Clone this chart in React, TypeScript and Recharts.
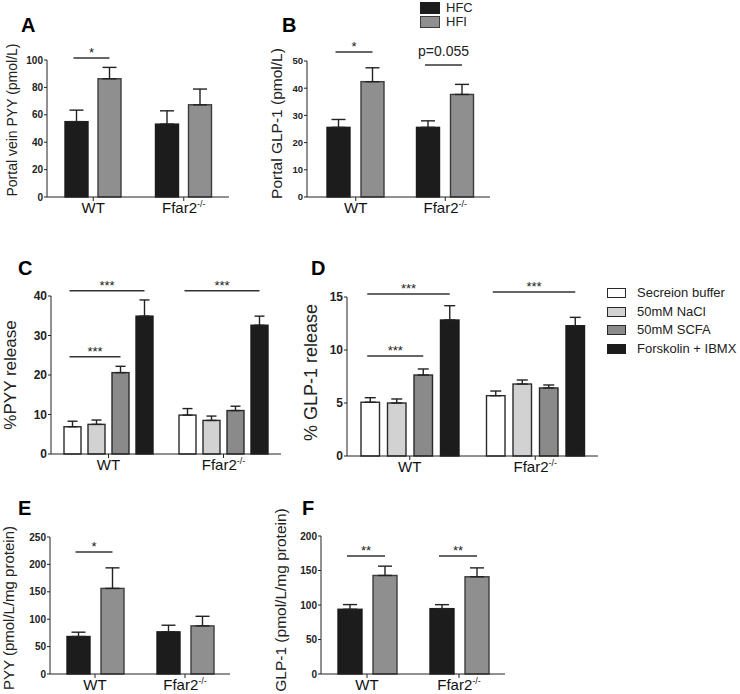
import React from 'react';
import { BarChart, Bar, XAxis, YAxis, ErrorBar, Legend } from 'recharts';

const FONT = '"Liberation Sans", Arial, sans-serif';
const INK = '#222';

const groups = ['WT', 'Ffar2'];

// A: portal vein PYY (pmol/L)
const portalPyyHFC = [55.0, 53.2];
const portalPyyHFCErr = [8.4, 9.7];
const portalPyyHFI = [86.3, 67.3];
const portalPyyHFIErr = [8.3, 11.5];

// B: portal GLP-1 (pmol/L)
const portalGlpHFC = [25.6, 25.6];
const portalGlpHFCErr = [2.9, 2.4];
const portalGlpHFI = [42.4, 37.7];
const portalGlpHFIErr = [5.1, 3.7];

// C: %PYY release
const pyyBuffer = [6.9, 9.85];
const pyyBufferErr = [1.4, 1.65];
const pyyNaCl = [7.5, 8.5];
const pyyNaClErr = [1.1, 1.1];
const pyySCFA = [20.6, 11.0];
const pyySCFAErr = [1.6, 1.1];
const pyyFsk = [34.9, 32.6];
const pyyFskErr = [4.1, 2.3];

// D: % GLP-1 release
const glpBuffer = [5.07, 5.69];
const glpBufferErr = [0.43, 0.44];
const glpNaCl = [5.0, 6.79];
const glpNaClErr = [0.38, 0.38];
const glpSCFA = [7.64, 6.42];
const glpSCFAErr = [0.57, 0.28];
const glpFsk = [12.83, 12.29];
const glpFskErr = [1.35, 0.79];

// E: PYY (pmol/L/mg protein)
const tissuePyyHFC = [68.4, 76.9];
const tissuePyyHFCErr = [7.9, 12.1];
const tissuePyyHFI = [156.2, 87.8];
const tissuePyyHFIErr = [37.5, 17.5];

// F: GLP-1 (pmol/L/mg protein)
const tissueGlpHFC = [93.8, 94.7];
const tissueGlpHFCErr = [6.8, 5.8];
const tissueGlpHFI = [142.8, 140.9];
const tissueGlpHFIErr = [13.5, 12.9];

const ticksA = [0, 20, 40, 60, 80, 100];
const ticksB = [0, 10, 20, 30, 40, 50];
const ticksC = [0, 10, 20, 30, 40];
const ticksD = [0, 5, 10, 15];
const ticksE = [0, 50, 100, 150, 200, 250];
const ticksF = [0, 50, 100, 150, 200];

type Series = { name: string; fill: string; stroke: string; values: number[]; errs: number[] };
type Sig = { group: number; from: number; to: number; at: number; text: string };
type PanelDef = {
  x0: number; y0: number; y1: number; band: number; padL: number; padR: number;
  mt: number; mr: number;
  barSize: number; gap: number; cap: number; tickFont: number;
  yMax: number; yTicks: number[];
  series: Series[]; sigs: Sig[];
  legend?: { x: number; y: number; box: [number, number]; row: number; font: number; space: number };
};

const BLACK = '#1c1c1c';
const HFI_GRAY = '#8f8f8f';
const dietSeries = (hfc: number[], hfcErr: number[], hfi: number[], hfiErr: number[]): Series[] => [
  { name: 'HFC', fill: BLACK, stroke: '#1c1c1c', values: hfc, errs: hfcErr },
  { name: 'HFI', fill: HFI_GRAY, stroke: '#3c3c3c', values: hfi, errs: hfiErr },
];
const stimSeries = (v: number[][], e: number[][]): Series[] => [
  { name: 'Secreion buffer', fill: '#ffffff', stroke: '#2a2a2a', values: v[0], errs: e[0] },
  { name: '50mM NaCl', fill: '#d2d2d2', stroke: '#2a2a2a', values: v[1], errs: e[1] },
  { name: '50mM SCFA', fill: '#8a8a8a', stroke: '#2a2a2a', values: v[2], errs: e[2] },
  { name: 'Forskolin + IBMX', fill: BLACK, stroke: '#1c1c1c', values: v[3], errs: e[3] },
];

const YW = 36;
const XH = 26;

const panelA: PanelDef = {
  x0: 47, y0: 60, y1: 197, band: 90.5, padL: 1, padR: 0, mt: 24, mr: 10,
  barSize: 23, gap: 10, cap: 7, tickFont: 10, yMax: 100, yTicks: ticksA,
  series: dietSeries(portalPyyHFC, portalPyyHFCErr, portalPyyHFI, portalPyyHFIErr),
  sigs: [{ group: 0, from: 0, to: 1, at: 101.5, text: '*' }],
};
const panelB: PanelDef = {
  x0: 307, y0: 61, y1: 197, band: 89.5, padL: 4, padR: 0, mt: 61, mr: 10,
  barSize: 23, gap: 11, cap: 7, tickFont: 9.5, yMax: 50, yTicks: ticksB,
  series: dietSeries(portalGlpHFC, portalGlpHFCErr, portalGlpHFI, portalGlpHFIErr),
  sigs: [
    { group: 0, from: 0, to: 1, at: 53.3, text: '*' },
    { group: 1, from: 0, to: 1, at: 48.5, text: 'p=0.055' },
  ],
  legend: { x: 420, y: 1, box: [20, 12], row: 14, font: 13, space: 6 },
};
const panelC: PanelDef = {
  x0: 51, y0: 296, y1: 454, band: 115, padL: 0, padR: 0, mt: 24, mr: 10,
  barSize: 17, gap: 7, cap: 5, tickFont: 12, yMax: 40, yTicks: ticksC,
  series: stimSeries([pyyBuffer, pyyNaCl, pyySCFA, pyyFsk], [pyyBufferErr, pyyNaClErr, pyySCFAErr, pyyFskErr]),
  sigs: [
    { group: 0, from: 0, to: 3, at: 41.3, text: '***' },
    { group: 0, from: 0, to: 2, at: 24.6, text: '***' },
    { group: 1, from: 0, to: 3, at: 41.3, text: '***' },
  ],
};
const panelD: PanelDef = {
  x0: 347, y0: 297, y1: 456, band: 125.5, padL: 0, padR: 0, mt: 24, mr: 142,
  barSize: 18.5, gap: 8, cap: 5.5, tickFont: 12, yMax: 15, yTicks: ticksD,
  series: stimSeries([glpBuffer, glpNaCl, glpSCFA, glpFsk], [glpBufferErr, glpNaClErr, glpSCFAErr, glpFskErr]),
  sigs: [
    { group: 0, from: 0, to: 3, at: 15.28, text: '***' },
    { group: 0, from: 0, to: 2, at: 9.43, text: '***' },
    { group: 1, from: 0, to: 3, at: 15.47, text: '***' },
  ],
  legend: { x: 607, y: 284, box: [19, 10], row: 18.5, font: 13, space: 11 },
};
const panelE: PanelDef = {
  x0: 50, y0: 537, y1: 674, band: 90, padL: 0, padR: 0, mt: 24, mr: 10,
  barSize: 23, gap: 11, cap: 7, tickFont: 10, yMax: 250, yTicks: ticksE,
  series: dietSeries(tissuePyyHFC, tissuePyyHFCErr, tissuePyyHFI, tissuePyyHFIErr),
  sigs: [{ group: 0, from: 0, to: 1, at: 222.6, text: '*' }],
};
const panelF: PanelDef = {
  x0: 321, y0: 536, y1: 674, band: 92, padL: 0, padR: 0, mt: 24, mr: 10,
  barSize: 24, gap: 11, cap: 7, tickFont: 10, yMax: 200, yTicks: ticksF,
  series: dietSeries(tissueGlpHFC, tissueGlpHFCErr, tissueGlpHFI, tissueGlpHFIErr),
  sigs: [
    { group: 0, from: 0, to: 1, at: 171, text: '**' },
    { group: 1, from: 0, to: 1, at: 171, text: '**' },
  ],
};

function GroupTick(props: any) {
  const { x, y, payload } = props;
  const v = String(payload.value);
  return (
    <text x={x} y={y} dy={10} textAnchor="middle" fontSize={15} fill="#111" fontFamily={FONT}>
      {v === 'Ffar2' ? (
        <>
          <tspan>Ffar2</tspan>
          <tspan dy={-6} fontSize={9}>-/-</tspan>
        </>
      ) : v}
    </text>
  );
}

function makeShape(p: PanelDef, si: number) {
  const s = p.series[si];
  return (props: any) => {
    const { x, y, width, height, index } = props;
    const v = s.values[index];
    const base = y + height;
    const cx = x + width / 2;
    const marks = p.sigs
      .filter((g) => g.to === si && g.group === index)
      .map((g, k) => {
        const ly = base - (g.at / v) * height;
        const fx = cx - (g.to - g.from) * (width + p.gap) - 3;
        const isP = g.text.startsWith('p');
        return (
          <g key={k}>
            <line x1={fx} x2={cx} y1={ly} y2={ly} stroke="#333" strokeWidth={1.5} />
            <text
              x={(fx + cx) / 2}
              y={isP ? ly - 9 : ly - 1}
              textAnchor="middle"
              fontSize={isP ? 14 : 13}
              fill="#222"
              fontFamily={FONT}
            >
              {g.text}
            </text>
          </g>
        );
      });
    return (
      <g>
        <rect x={x} y={y} width={width} height={height} fill={s.fill} stroke={s.stroke} strokeWidth={1.4} />
        {marks}
      </g>
    );
  };
}

function Panel({ p }: { p: PanelDef }) {
  const rows = groups.map((g, i) => {
    const r: Record<string, any> = { group: g };
    p.series.forEach((s, si) => {
      r[`s${si}`] = s.values[i];
      r[`e${si}`] = [0, s.errs[i]];
    });
    return r;
  });
  const plotW = p.padL + p.padR + groups.length * p.band;
  const left = p.x0 - YW;
  const top = p.y0 - p.mt;
  const width = YW + plotW + p.mr;
  const height = p.mt + (p.y1 - p.y0) + XH;
  const lg = p.legend;

  return (
    <div style={{ position: 'absolute', left, top }}>
      <BarChart
        width={width}
        height={height}
        data={rows}
        margin={{ top: p.mt, right: p.mr, bottom: 0, left: 0 }}
        barGap={p.gap}
        barSize={p.barSize}
      >
        <XAxis
          dataKey="group"
          height={XH}
          tickSize={4}
          tickMargin={2}
          axisLine={{ stroke: INK }}
          tickLine={{ stroke: INK }}
          tick={(tp: any) => <GroupTick {...tp} />}
          padding={{ left: p.padL, right: p.padR }}
          interval={0}
        />
        <YAxis
          type="number"
          width={YW}
          domain={[0, p.yMax]}
          ticks={p.yTicks}
          interval={0}
          tickSize={3}
          tickMargin={1}
          axisLine={{ stroke: INK }}
          tickLine={{ stroke: INK }}
          tick={{ fontSize: p.tickFont, fontWeight: 'bold', fill: INK, fontFamily: FONT }}
        />
        {lg && (
          <Legend
            layout="vertical"
            align="center"
            verticalAlign="middle"
            wrapperStyle={{ left: lg.x - left, top: lg.y - top, width: 'auto' }}
            content={() => (
              <div style={{ fontFamily: FONT, fontSize: lg.font, lineHeight: `${lg.row}px`, color: '#222' }}>
                {p.series.map((s) => (
                  <div key={s.name} style={{ display: 'flex', alignItems: 'center', height: lg.row, whiteSpace: 'nowrap' }}>
                    <span
                      style={{
                        display: 'inline-block',
                        width: lg.box[0],
                        height: lg.box[1],
                        background: s.fill,
                        border: `1.4px solid ${s.stroke}`,
                        boxSizing: 'border-box',
                        marginRight: lg.space,
                      }}
                    />
                    {s.name}
                  </div>
                ))}
              </div>
            )}
          />
        )}
        {p.series.map((s, si) => (
          <Bar
            key={s.name}
            dataKey={`s${si}`}
            name={s.name}
            fill={s.fill}
            stroke={s.stroke}
            shape={makeShape(p, si)}
            isAnimationActive={false}
          >
            <ErrorBar dataKey={`e${si}`} width={p.cap} stroke={INK} strokeWidth={1.4} direction="y" />
          </Bar>
        ))}
      </BarChart>
    </div>
  );
}

const letters = [
  { t: 'A', x: 21, y: 32 },
  { t: 'B', x: 282, y: 32 },
  { t: 'C', x: 18, y: 275 },
  { t: 'D', x: 311, y: 275 },
  { t: 'E', x: 18, y: 515 },
  { t: 'F', x: 302, y: 515 },
];
const yLabels = [
  { t: 'Portal vein PYY (pmol/L)', x: 17, y: 120, fs: 14 },
  { t: 'Portal GLP-1 (pmol/L)', x: 282, y: 123.5, fs: 15.5 },
  { t: '%PYY release', x: 16, y: 375, fs: 17 },
  { t: '% GLP-1 release', x: 317, y: 372.5, fs: 18 },
  { t: 'PYY (pmol/L/mg protein)', x: 14, y: 608, fs: 15 },
  { t: 'GLP-1 (pmol/L/mg protein)', x: 286, y: 600, fs: 15.5 },
];

export default function App() {
  return (
    <div
      style={{
        position: 'absolute',
        left: 0,
        top: 0,
        width: 740,
        height: 694,
        overflow: 'hidden',
        background: '#fff',
        fontFamily: FONT,
      }}
    >
      {[panelA, panelB, panelC, panelD, panelE, panelF].map((p, i) => (
        <Panel key={i} p={p} />
      ))}
      <svg width={740} height={694} style={{ position: 'absolute', left: 0, top: 0, pointerEvents: 'none' }}>
        {letters.map((l) => (
          <text key={l.t} x={l.x} y={l.y} fontSize={20} fontWeight="bold" fill="#000" fontFamily={FONT}>
            {l.t}
          </text>
        ))}
        {yLabels.map((l) => (
          <text
            key={l.t}
            transform={`translate(${l.x},${l.y}) rotate(-90)`}
            textAnchor="middle"
            fontSize={l.fs}
            fill="#222"
            fontFamily={FONT}
          >
            {l.t}
          </text>
        ))}
      </svg>
    </div>
  );
}
